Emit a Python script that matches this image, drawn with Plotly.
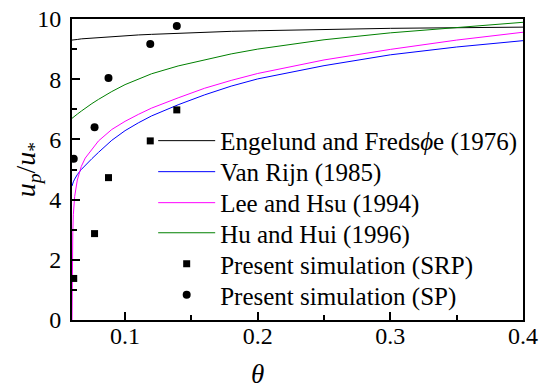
import plotly.graph_objects as go

theta_curve = [0.0600, 0.0601, 0.0603, 0.0606, 0.061, 0.062, 0.064, 0.067, 0.07, 0.075,
               0.08, 0.09, 0.1, 0.11, 0.12, 0.14, 0.16, 0.18, 0.2, 0.25, 0.3, 0.35, 0.4]
engelund = [9.30, 9.30, 9.30, 9.30, 9.31, 9.31, 9.32, 9.34, 9.35, 9.37,
            9.39, 9.42, 9.45, 9.47, 9.49, 9.53, 9.56, 9.59, 9.61, 9.66, 9.69, 9.71, 9.73]
van_rijn = [4.45, 4.47, 4.50, 4.54, 4.59, 4.68, 4.83, 5.00, 5.14, 5.36,
            5.57, 5.97, 6.29, 6.55, 6.78, 7.15, 7.48, 7.77, 8.01, 8.45, 8.81, 9.07, 9.28]
lee_hsu = [0.0, 1.2, 2.2, 2.9, 3.5, 4.1, 4.65, 5.1, 5.38, 5.68,
           5.95, 6.33, 6.6, 6.83, 7.04, 7.38, 7.7, 7.96, 8.19, 8.64, 8.99, 9.30, 9.56]
hu_hui = [6.70, 6.704, 6.71, 6.72, 6.735, 6.77, 6.84, 6.94, 7.04, 7.19,
          7.33, 7.59, 7.82, 8.01, 8.18, 8.44, 8.64, 8.84, 9.00, 9.31, 9.54, 9.72, 9.89]

theta_sim = [0.0613, 0.077, 0.0875, 0.119, 0.139]
srp = [1.38, 2.87, 4.73, 5.95, 6.98]
sp = [5.36, 6.40, 8.04, 9.17, 9.77]

names = ["Engelund and Freds<i>\u03d5</i>e (1976)", "Van Rijn (1985)", "Lee and Hsu (1994)",
         "Hu and Hui (1996)", "Present simulation (SRP)", "Present simulation (SP)"]

FONT = "Liberation Serif"
legend_ids = ["legend", "legend2", "legend3", "legend4", "legend5", "legend6"]
legend_rows_y = [0.595, 0.492, 0.389, 0.289, 0.186, 0.083]

fig = go.Figure()
for i, (y, color) in enumerate([(engelund, "#000000"), (van_rijn, "#0000ff"),
                                (lee_hsu, "#ff00ff"), (hu_hui, "#008000")]):
    fig.add_trace(go.Scatter(x=theta_curve, y=y, mode="lines", name=names[i],
                             legend=legend_ids[i], line=dict(color=color, width=1)))
fig.add_trace(go.Scatter(x=theta_sim, y=srp, mode="markers", name=names[4], legend=legend_ids[4],
                         marker=dict(symbol="square", size=7, color="black")))
fig.add_trace(go.Scatter(x=theta_sim, y=sp, mode="markers", name=names[5], legend=legend_ids[5],
                         marker=dict(symbol="circle", size=8, color="black")))

axis_common = dict(showline=True, linecolor="black", linewidth=2, mirror=True,
                   ticks="inside", ticklen=8, tickwidth=2, tickcolor="black",
                   showgrid=False, zeroline=False, automargin=False,
                   ticklabeloverflow="allow",
                   tickfont=dict(family=FONT, size=24, color="black"))
fig.update_xaxes(range=[0.06, 0.4], tickvals=[0.1, 0.2, 0.3, 0.4],
                 ticktext=["0.1", "0.2", "0.3", "0.4"], ticklabelstandoff=-7,
                 minor=dict(tickvals=[0.15, 0.25, 0.35], ticklen=5, tickwidth=2,
                            tickcolor="black", ticks="inside"),
                 **axis_common)
fig.update_yaxes(range=[0, 10], tickvals=[0, 2, 4, 6, 8, 10], ticklabelstandoff=4,
                 minor=dict(tickvals=[1, 3, 5, 7, 9], ticklen=5, tickwidth=2,
                            tickcolor="black", ticks="inside"),
                 **axis_common)
fig.add_annotation(text="<i>u</i><sub><i>p</i></sub>/<i>u</i><sub>*</sub>",
                   x=-0.098, xref="paper", xanchor="center", y=0.5, yref="paper",
                   yanchor="middle", textangle=-90, showarrow=False,
                   font=dict(family=FONT, size=28, color="black"))
fig.add_annotation(text="<i>\u03b8</i>", x=0.2, xref="x", y=-0.18, yref="paper",
                   yanchor="middle", showarrow=False,
                   font=dict(family=FONT, size=27, color="black"))
layout_legends = {}
for lid, ly in zip(legend_ids, legend_rows_y):
    layout_legends[lid] = dict(x=0.18, y=ly, xanchor="left", yanchor="middle",
                               bgcolor="rgba(0,0,0,0)", itemwidth=57,
                               font=dict(family=FONT, size=25, color="black"))
fig.update_layout(width=550, height=388, margin=dict(l=64, r=35, t=11, b=76),
                  paper_bgcolor="white", plot_bgcolor="white",
                  font=dict(family=FONT, size=24, color="black"),
                  showlegend=True, **layout_legends)
fig.write_html("out.html")
